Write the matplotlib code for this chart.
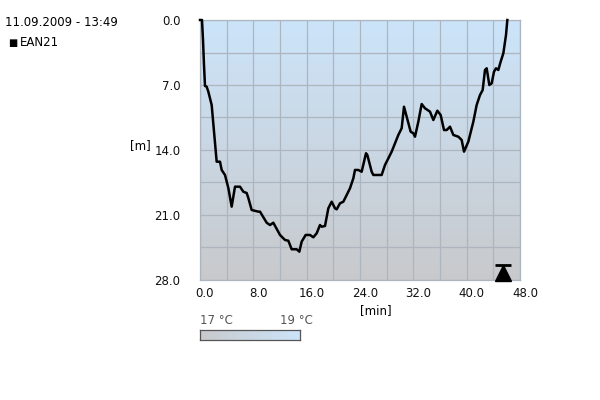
import numpy as np
import matplotlib
matplotlib.use("Agg")
import matplotlib.pyplot as plt
from matplotlib.colors import LinearSegmentedColormap
from matplotlib.transforms import ScaledTranslation

# ---- data ----
title_text = "11.09.2009 - 13:49"
series_name = "EAN21"
time_min = [0.0, 0.3, 0.45, 0.6, 0.75, 1.0, 1.25, 1.75, 2.5, 3.0, 3.25, 3.75, 4.25,
            4.75, 5.25, 6.0, 6.5, 7.0, 7.25, 7.75, 8.75, 9.0, 10.0, 10.5, 11.0, 12.0,
            12.75, 13.25, 13.75, 14.5, 14.9, 15.25, 15.85, 16.5, 17.0, 17.5, 18.0,
            18.25, 18.75, 19.25, 19.75, 20.25, 20.5, 21.0, 21.5, 22.0, 22.5, 23.0,
            23.25, 23.75, 24.25, 24.9, 25.1, 25.75, 26.0, 27.25, 27.75, 28.25, 28.75,
            29.25, 29.75, 30.25, 30.6, 31.0, 31.6, 32.0, 32.25, 32.75, 33.25, 33.75,
            34.5, 35.0, 35.6, 36.1, 36.6, 37.0, 37.5, 38.0, 38.75, 39.25, 39.6, 40.25,
            41.0, 41.5, 42.0, 42.4, 42.75, 43.0, 43.4, 43.75, 44.1, 44.4, 44.75, 45.1,
            45.5, 45.9, 46.1]
depth_m = [0.0, 0.0, 2.15, 4.85, 7.1, 7.18, 7.72, 9.15, 15.26, 15.26, 16.15, 16.69,
           18.09, 20.1, 17.95, 17.95, 18.49, 18.63, 19.17, 20.46, 20.64, 20.64, 21.83,
           22.08, 21.83, 23.15, 23.69, 23.77, 24.69, 24.69, 24.95, 23.87, 23.15, 23.15,
           23.4, 22.97, 22.08, 22.26, 22.18, 20.28, 19.57, 20.28, 20.39, 19.74, 19.57,
           18.85, 18.12, 17.05, 16.15, 16.15, 16.34, 14.35, 14.54, 16.34, 16.69, 16.69,
           15.61, 14.9, 14.18, 13.28, 12.38, 11.66, 9.34, 10.41, 12.03, 12.2, 12.57,
           10.95, 9.05, 9.51, 9.87, 10.77, 9.77, 10.23, 11.85, 11.85, 11.49, 12.38,
           12.57, 12.92, 14.18, 13.1, 10.95, 9.15, 8.08, 7.54, 5.38, 5.2, 7.0, 6.82,
           5.57, 5.2, 5.38, 4.49, 3.59, 1.62, 0.0]
end_marker_time = [45.5]
end_marker_depth = [28.0]
x_ticks = [0.0, 8.0, 16.0, 24.0, 32.0, 40.0, 48.0]
y_ticks = [0.0, 7.0, 14.0, 21.0, 28.0]
temp_labels = ["17 °C", "19 °C"]

plt.rcParams['font.family'] = ['DejaVu Sans']
fig = plt.figure(figsize=(6, 4), dpi=100)
ax = fig.add_axes([200/600, 1-280/400, 320/600, 260/400])

col_top = (0.80, 0.895, 0.98)
col_bot = (0.785, 0.79, 0.80)
cmap_bg = LinearSegmentedColormap.from_list("bg", [col_bot, col_top])
grad = np.linspace(0, 1, 256).reshape(-1, 1)
ax.imshow(grad, cmap=cmap_bg, aspect='auto', extent=[0, 48, 28, 0],
          origin='lower', zorder=0)

ax.set_xlim(0, 48)
ax.set_ylim(28, 0)
ax.set_xticks(np.arange(0, 48.1, 4), minor=True)
ax.set_yticks(np.arange(0, 28.1, 3.5), minor=True)
ax.set_xticks(x_ticks)
ax.set_yticks(y_ticks)
ax.set_xticklabels([f"{v:.1f}" for v in x_ticks])
ax.set_yticklabels([f"{v:.1f}" for v in y_ticks])
ax.grid(True, which='both', color='#adb5be', linewidth=0.9, zorder=1)
ax.set_axisbelow(False)
ax.tick_params(which='both', length=0, labelsize=8.5, colors='#111111')
ax.tick_params(axis='y', pad=14)
ax.tick_params(axis='x', pad=5)
for lbl in ax.get_xticklabels():
    lbl.set_transform(lbl.get_transform() + ScaledTranslation(5/100, 0, fig.dpi_scale_trans))
for s in ax.spines.values():
    s.set_color('#adb5be')
    s.set_linewidth(0.9)

ax.plot(time_min, depth_m, color='black', linewidth=1.8, zorder=3,
        solid_joinstyle='round', clip_on=False)
ax.plot(end_marker_time, end_marker_depth, marker='^', markersize=11,
        color='black', linestyle='none', zorder=4, clip_on=False,
        transform=ax.transData + ScaledTranslation(0, 7/100, fig.dpi_scale_trans))
ax.plot(end_marker_time, end_marker_depth, marker='_', markersize=12, mew=2,
        color='black', linestyle='none', zorder=4, clip_on=False,
        transform=ax.transData + ScaledTranslation(0, 15/100, fig.dpi_scale_trans))

fig.text(140/600, 1-146/400, "[m]", fontsize=8.5, ha='center', va='center')
fig.text(376/600, 1-311/400, "[min]", fontsize=8.5, ha='center', va='center')
fig.text(5/600, 1-22/400, title_text, fontsize=8.5, ha='left', va='center')
fig.text(8/600, 1-43/400, "■", fontsize=7, ha='left', va='center')
fig.text(20/600, 1-43/400, series_name, fontsize=8.5, ha='left', va='center')

# colour scale
cax = fig.add_axes([200/600, 1-340/400, 100/600, 10/400])
cmap_t = LinearSegmentedColormap.from_list("t", [col_bot, col_top])
cax.imshow(np.linspace(0, 1, 256).reshape(1, -1), cmap=cmap_t, aspect='auto')
cax.set_xticks([]); cax.set_yticks([])
for s in cax.spines.values():
    s.set_color('#555555')
    s.set_linewidth(0.9)
fig.text(200/600, 1-320/400, temp_labels[0], fontsize=8.5, ha='left', va='center', color='#555555')
fig.text(280/600, 1-320/400, temp_labels[1], fontsize=8.5, ha='left', va='center', color='#555555')

fig.savefig("out.png", dpi=100)
